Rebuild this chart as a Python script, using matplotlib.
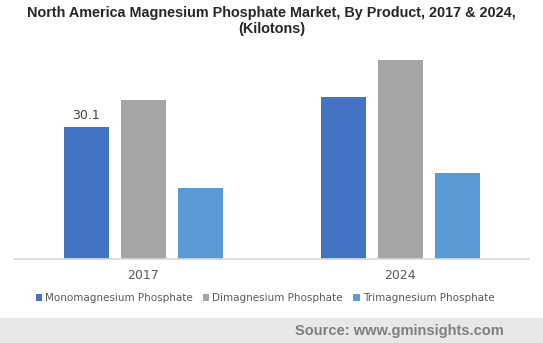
import matplotlib.pyplot as plt
import numpy as np

# Data
years = ['2017', '2024']
products = ['Monomagnesium Phosphate', 'Dimagnesium Phosphate', 'Trimagnesium Phosphate']
mono = [30.1, 36.9]
di = [36.3, 45.4]
tri = [16.2, 19.6]
colors = ['#4472c4', '#a5a5a5', '#5b9bd5']

fig = plt.figure(figsize=(5.43, 3.43), dpi=100)
W, H = 543, 343

# axes placed in pixel terms
left, right, top, bottom = 14, 529, 50, 259
ax = fig.add_axes([left / W, 1 - bottom / H, (right - left) / W, (bottom - top) / H])

x = np.arange(len(years))
step = 57 / 257
width = 45 / 257
for i, (vals, name) in enumerate(zip([mono, di, tri], products)):
    bars = ax.bar(x + (i - 1) * step, vals, width, color=colors[i], label=name)
    if i == 0:
        ax.text(bars[0].get_x() + width / 2, vals[0] + 1.2, f'{vals[0]}',
                ha='center', va='bottom', fontsize=9, color='#404040')

ax.set_xlim(-(143 - left) / 257, (right - 143) / 257)
ax.set_ylim(0, (bottom - top) / 4.385)
ax.set_xticks(x)
ax.set_xticklabels(years, fontsize=9, color='#595959')
ax.tick_params(axis='x', length=0, pad=7)
ax.set_yticks([])
for s in ['top', 'right', 'left']:
    ax.spines[s].set_visible(False)
ax.spines['bottom'].set_color('#d9d9d9')
ax.spines['bottom'].set_linewidth(1.2)

fig.text(0.5, 1 - 13 / H, 'North America Magnesium Phosphate Market, By Product, 2017 & 2024,',
         ha='center', va='center', fontsize=10.4, fontweight='bold', color='#262626',
         family='Liberation Sans')
fig.text(0.5, 1 - 29 / H, '(Kilotons)', ha='center', va='center', fontsize=10.4,
         fontweight='bold', color='#262626', family='Liberation Sans')

fig.legend(loc='center', bbox_to_anchor=(265 / W, 1 - 298 / H), ncol=3, frameon=False,
           fontsize=7.5, handlelength=0.6, handleheight=0.6, handletextpad=0.3,
           columnspacing=1.0, labelcolor='#595959')

# gray source band
fig.patches.append(plt.Rectangle((0, 0), 1, 25 / H, transform=fig.transFigure,
                                 color='#e8e8e8', zorder=0))
fig.text(1 - 39 / W, 12 / H, 'Source: www.gminsights.com', ha='right', va='center',
         fontsize=10.5, fontweight='bold', color='#7f7f7f', family='Liberation Sans')

fig.savefig('out.png', dpi=100)
